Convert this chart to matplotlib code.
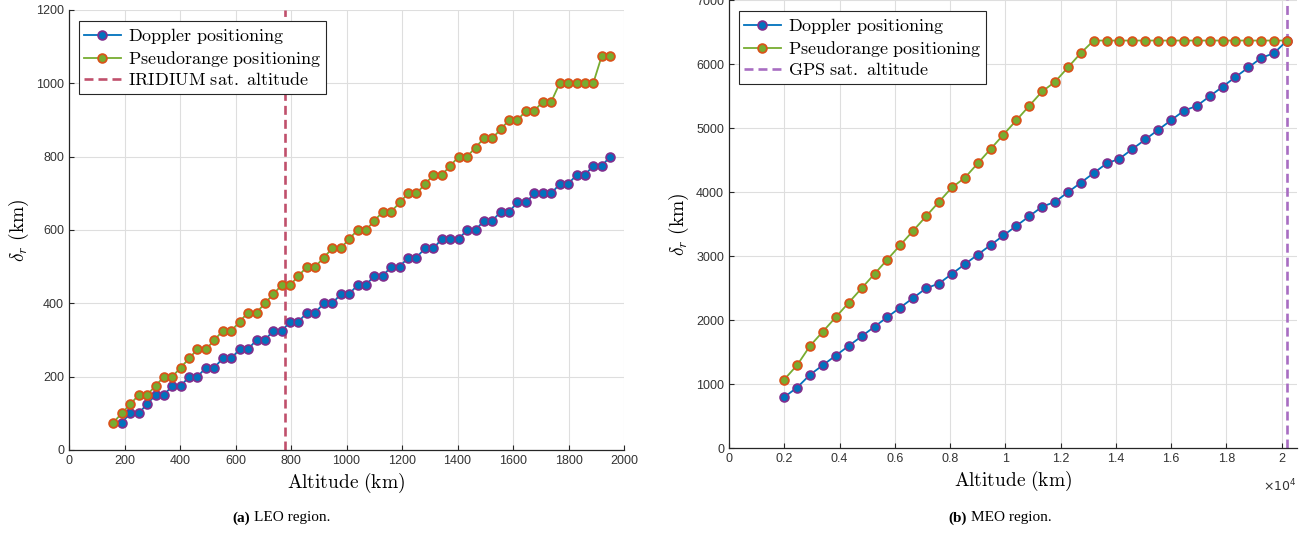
import matplotlib
matplotlib.use("Agg")
import matplotlib.pyplot as plt
import numpy as np

plt.rcParams['mathtext.fontset'] = 'cm'
plt.rcParams['font.family'] = ['Liberation Sans', 'DejaVu Sans']

# ── LEO sweep (km) ─────────────────────────────────────────────────────────
leo_alt = [160, 190, 221, 251, 281, 312, 342, 372, 403, 433,
           463, 494, 524, 554, 585, 615, 645, 676, 706, 736,
           767, 797, 827, 858, 888, 918, 949, 979, 1009, 1040,
           1070, 1100, 1131, 1161, 1192, 1222, 1252, 1283, 1313, 1343,
           1374, 1404, 1434, 1465, 1495, 1525, 1556, 1586, 1616, 1647,
           1677, 1707, 1738, 1768, 1798, 1829, 1859, 1889, 1920, 1950]
leo_doppler = [np.nan, 75, 100, 100, 125, 150, 150, 175, 175, 200,
               200, 225, 225, 250, 250, 275, 275, 300, 300, 325,
               325, 350, 350, 375, 375, 400, 400, 425, 425, 450,
               450, 475, 475, 500, 500, 525, 525, 550, 550, 575,
               575, 575, 600, 600, 625, 625, 650, 650, 675, 675,
               700, 700, 700, 725, 725, 750, 750, 775, 775, 800]
leo_pseudo = [75, 100, 125, 150, 150, 175, 200, 200, 225, 250,
              275, 275, 300, 325, 325, 350, 375, 375, 400, 425,
              450, 450, 475, 500, 500, 525, 550, 550, 575, 600,
              600, 625, 650, 650, 675, 700, 700, 725, 750, 750,
              775, 800, 800, 825, 850, 850, 875, 900, 900, 925,
              925, 950, 950, 1000, 1000, 1000, 1000, 1000, 1075, 1075]
iridium_alt = 780

# ── MEO sweep (km) ─────────────────────────────────────────────────────────
meo_alt = [2000, 2467, 2933, 3400, 3867, 4333, 4800, 5267, 5733, 6200,
           6667, 7133, 7600, 8067, 8533, 9000, 9467, 9933, 10400, 10867,
           11333, 11800, 12267, 12733, 13200, 13667, 14133, 14600, 15067, 15533,
           16000, 16467, 16933, 17400, 17867, 18333, 18800, 19267, 19733, 20200]
meo_doppler = [800, 950, 1150, 1300, 1450, 1600, 1750, 1900, 2050, 2200,
               2350, 2500, 2575, 2725, 2875, 3025, 3175, 3325, 3475, 3625,
               3775, 3850, 4000, 4150, 4300, 4450, 4525, 4675, 4825, 4975,
               5125, 5275, 5350, 5500, 5650, 5800, 5950, 6100, 6175, 6371]
meo_pseudo = [1075, 1300, 1600, 1825, 2050, 2275, 2500, 2725, 2950, 3175,
              3400, 3625, 3850, 4075, 4225, 4450, 4675, 4900, 5125, 5350,
              5575, 5725, 5950, 6175, 6371, 6371, 6371, 6371, 6371, 6371,
              6371, 6371, 6371, 6371, 6371, 6371, 6371, 6371, 6371, 6371]
gps_alt = 20200

DOP = dict(color="#0072BD", mfc="#0072BD", mec="#7E2F8E")
PSR = dict(color="#77AC30", mfc="#77AC30", mec="#D95319")
INK = "#262626"


def style(ax):
    for s in ("top", "right"):
        ax.spines[s].set_visible(False)
    for s in ("left", "bottom"):
        ax.spines[s].set_color(INK)
        ax.spines[s].set_linewidth(0.9)
    ax.tick_params(direction="in", length=3.5, width=0.8, color=INK,
                   labelsize=9, labelcolor="#333333", top=False, right=False)
    ax.grid(True, color="#dedede", lw=0.8)
    ax.set_axisbelow(True)


def series(ax, x, y_dop, y_psr):
    ax.plot(x, y_dop, "-o", lw=1.3, ms=6.3, mew=1.3,
            label=r"$\mathrm{Doppler\ positioning}$", zorder=3, **DOP)
    ax.plot(x, y_psr, "-o", lw=1.3, ms=6.3, mew=1.3,
            label=r"$\mathrm{Pseudorange\ positioning}$", zorder=3, **PSR)


fig = plt.figure(figsize=(13.05, 5.39), dpi=100)
fig.patch.set_facecolor("white")

# (a) LEO
ax1 = fig.add_axes([69 / 1305, 89 / 539, 555 / 1305, 440 / 539])
style(ax1)
series(ax1, leo_alt, leo_doppler, leo_pseudo)
ax1.axvline(iridium_alt, color="#C0506C", lw=1.9, ls=(0, (3.4, 1.9)),
            label=r"$\mathrm{IRIDIUM\ sat.\ altitude}$", zorder=2)
ax1.set_xlim(0, 2000)
ax1.set_ylim(0, 1200)
ax1.set_xticks(range(0, 2001, 200))
ax1.set_yticks(range(0, 1201, 200))
ax1.set_xlabel(r"$\mathrm{Altitude\ (km)}$", fontsize=14, labelpad=3)
ax1.set_ylabel(r"$\delta_r\ \mathrm{(km)}$", fontsize=14, labelpad=4)
ax1.legend(loc="upper left", bbox_to_anchor=(0.018, 0.975), borderaxespad=0,
           fontsize=13, fancybox=False, framealpha=1, edgecolor=INK,
           handlelength=2.0, labelspacing=0.15, borderpad=0.3,
           handletextpad=0.4).get_frame().set_linewidth(0.8)

# (b) MEO
ax2 = fig.add_axes([729 / 1305, 90.7 / 539, 567.7 / 1305, 448 / 539])
style(ax2)
series(ax2, meo_alt, meo_doppler, meo_pseudo)
ax2.axvline(gps_alt, color="#A86DC2", lw=1.9, ls=(0, (3.4, 1.9)),
            label=r"$\mathrm{GPS\ sat.\ altitude}$", zorder=2)
ax2.set_xlim(0, 20550)
ax2.set_ylim(0, 7000)
ax2.set_xticks(range(0, 20001, 2000))
ax2.set_xticklabels(["0", "0.2", "0.4", "0.6", "0.8", "1",
                     "1.2", "1.4", "1.6", "1.8", "2"])
ax2.set_yticks(range(0, 7001, 1000))
ax2.set_xlabel(r"$\mathrm{Altitude\ (km)}$", fontsize=14, labelpad=3)
ax2.set_ylabel(r"$\delta_r\ \mathrm{(km)}$", fontsize=14, labelpad=4)
ax2.text(1.0, -0.085, r"$\times10^{4}$", transform=ax2.transAxes,
         ha="right", va="center", fontsize=9, color="#333333",
         math_fontfamily="dejavusans")
ax2.legend(loc="upper left", bbox_to_anchor=(0.0176, 0.976), borderaxespad=0,
           fontsize=13, fancybox=False, framealpha=1, edgecolor=INK,
           handlelength=2.0, labelspacing=0.15, borderpad=0.3,
           handletextpad=0.4).get_frame().set_linewidth(0.8)

# captions under each panel
cap = dict(family=["Liberation Serif", "DejaVu Serif"], fontsize=11,
           va="center", color="black")
cap_y = 1 - 518 / 539
fig.text(250 / 1305, cap_y, "(a)", ha="right", fontweight="bold", **cap)
fig.text(254 / 1305, cap_y, "LEO region.", ha="left", **cap)
fig.text(967 / 1305, cap_y, "(b)", ha="right", fontweight="bold", **cap)
fig.text(971 / 1305, cap_y, "MEO region.", ha="left", **cap)

fig.savefig("out.png", dpi=100, facecolor="white")
